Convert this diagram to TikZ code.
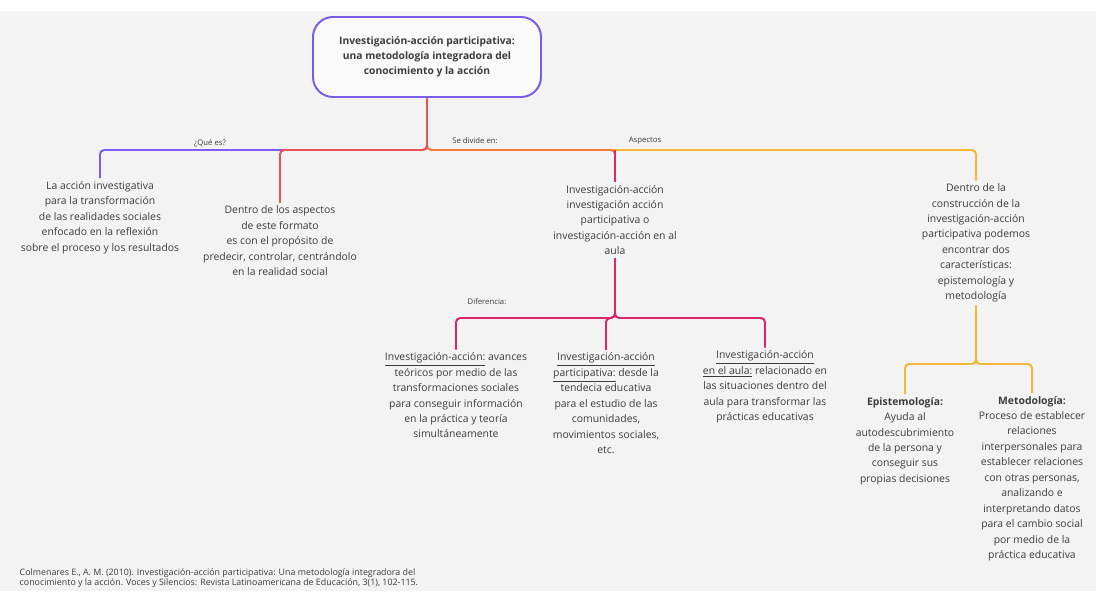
\documentclass[tikz,border=0pt]{standalone}
\usepackage{fontspec}
\setmainfont{Open Sans}
\usetikzlibrary{positioning}

\definecolor{bggray}{HTML}{F3F3F3}
\definecolor{txtgray}{HTML}{3C3C3C}
\definecolor{rootpurple}{HTML}{7B5CE6}
\definecolor{qpurple}{HTML}{7C5CF2}
\definecolor{topicred}{HTML}{E8535A}
\definecolor{topicorange}{HTML}{F47C3C}
\definecolor{difcrimson}{HTML}{E0246A}
\definecolor{aspamber}{HTML}{F2B63A}

\begin{document}
\begin{tikzpicture}[
    txt/.style={align=center, font=\fontsize{7.4}{11}\selectfont, text=txtgray, inner sep=2pt},
    lbl/.style={font=\fontsize{5.5}{7}\selectfont, text=txtgray, inner sep=1pt},
    root/.style={draw=rootpurple, line width=1.4pt, rounded corners=0.5cm,
        fill=white!60!bggray, align=center, text=txtgray,
        font=\bfseries\fontsize{7.3}{10.6}\selectfont,
        minimum width=5.7cm, minimum height=2cm},
    branch/.style={line width=1.4pt, rounded corners=3pt}
]

% Background
\fill[bggray] (0,0) rectangle (27.4,14.775);
\fill[white] (0,14.5) rectangle (27.4,14.775);
\clip (0,0) rectangle (27.4,14.775);

% Central topic
\node[root] (root) at (10.675,13.35) {Investigación-acción participativa:\\
    una metodología integradora del\\ conocimiento y la acción};

% Levels of the connectors
\coordinate (bus) at (0,11.025);
\coordinate (busdif) at (0,6.825);
\coordinate (busasp) at (0,5.675);

% First-level topics
\node[txt] (accion) at (2.5,9.34) {La acción investigativa\\ para la transformación\\
    de las realidades sociales\\ enfocado en la reflexión\\ sobre el proceso y los resultados};
\node[txt] (dentro) at (7.0,8.75) {Dentro de los aspectos\\ de este formato\\
    es con el propósito de\\ predecir, controlar, centrándolo\\ en la realidad social};
\node[txt] (divide) at (15.375,9.275) {Investigación-acción\\ investigación acción\\
    participativa o\\ investigación-acción en al\\ aula};
\node[txt] (aspectos) at (24.4,8.7) {Dentro de la\\ construcción de la\\
    investigación-acción\\ participativa podemos\\ encontrar dos\\ características:\\
    epistemología y\\ metodología};

% Differences
\node[txt] (ia) at (11.4,4.89) {\underline{Investigación-acción:} avances\\
    teóricos por medio de las\\ transformaciones sociales\\ para conseguir información\\
    en la práctica y teoría\\ simultáneamente};
\node[txt] (iap) at (15.15,4.69) {\underline{Investigación-acción}\\
    \underline{participativa:} desde la\\ tendecia educativa\\ para el estudio de las\\
    comunidades,\\ movimientos sociales,\\ etc.};
\node[txt] (iaaula) at (19.125,5.1) {\underline{Investigación-acción}\\
    \underline{en el aula:} relacionado en\\ las situaciones dentro del\\
    aula para transformar las\\ prácticas educativas};

% Aspects
\node[txt] (episte) at (22.625,3.75) {\textbf{Epistemología:}\\ Ayuda al\\
    autodescubrimiento\\ de la persona y\\ conseguir sus\\ propias decisiones};
\node[txt] (metodo) at (25.8,2.81) {\textbf{Metodología:}\\ Proceso de establecer\\
    relaciones\\ interpersonales para\\ establecer relaciones\\ con otras personas,\\
    analizando e\\ interpretando datos\\ para el cambio social\\ por medio de la\\
    práctica educativa};

% Connectors from the central topic
\draw[branch, aspamber] (root.south) -- (root.south |- bus) -| (aspectos.north);
\draw[branch, topicorange] (root.south) -- (root.south |- bus) -| (divide.north);
\draw[branch, difcrimson] (divide.north |- bus) -- (divide.north);
\draw[branch, qpurple] (root.south) -- (root.south |- bus) -| (accion.north);
\draw[branch, topicred] (root.south) -- (root.south |- bus) -| (dentro.north);

% Connectors of the differences
\draw[branch, difcrimson] (divide.south) -- (divide.south |- busdif) -| (ia.north);
\draw[branch, difcrimson] (divide.south) -- (divide.south |- busdif) -| (iap.north);
\draw[branch, difcrimson] (divide.south) -- (divide.south |- busdif) -| (iaaula.north);

% Connectors of the aspects
\draw[branch, aspamber] (aspectos.south) -- (aspectos.south |- busasp) -| (episte.north);
\draw[branch, aspamber] (aspectos.south) -- (aspectos.south |- busasp) -| (metodo.north);

% Connector labels
\node[lbl] (quees) at (5.25,11.2) {¿Qué es?};
\node[lbl] (sedivide) at (11.875,11.25) {Se divide en:};
\node[lbl] (aspectoslbl) at (16.125,11.25) {Aspectos};
\node[lbl] (diferencia) at (12.175,7.225) {Diferencia:};

% Reference
\node[lbl, anchor=south west, align=left, font=\fontsize{6.3}{7.6}\selectfont] (cita) at (0.45,0.03)
    {Colmenares E., A. M. (2010). Investigación-acción participativa: Una metodología integradora del\\
    conocimiento y la acción. Voces y Silencios: Revista Latinoamericana de Educación, 3(1), 102-115.};

\end{tikzpicture}
\end{document}
